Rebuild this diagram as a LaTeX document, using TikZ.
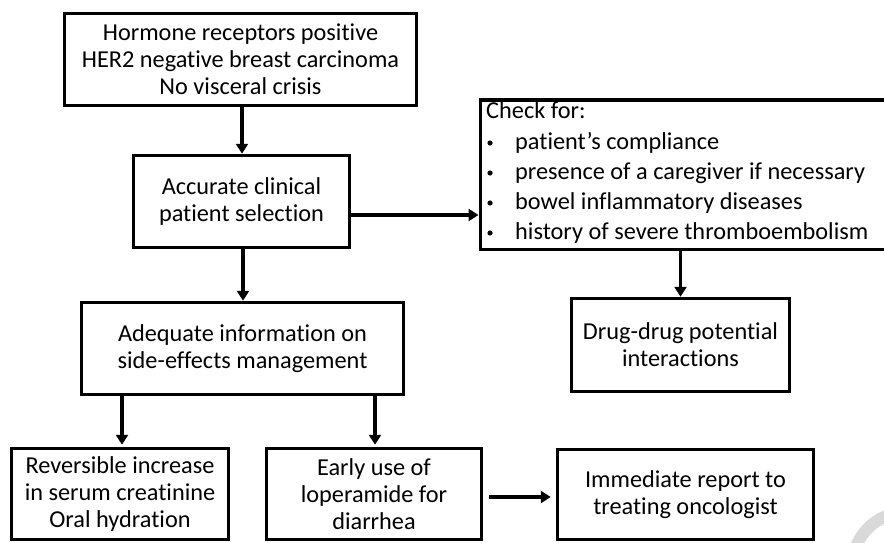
\documentclass[tikz,border=0pt]{standalone}
\usepackage{fontspec}
\setmainfont[Ligatures={TeX,NoCommon}]{Carlito}
\usetikzlibrary{arrows.meta}
\tikzset{
  txt/.style={font=\fontsize{24.3}{27}\selectfont},
  box/.style={draw=black, line width=3.5pt, fill=white, align=center, inner sep=2pt, txt},
  arr/.style={line width=3.5pt, -{Triangle[width=12pt,length=10pt]}},
}
\begin{document}
\begin{tikzpicture}[x=1pt,y=-1pt]
\clip (0,0) rectangle (884,543);
\fill[white] (0,0) rectangle (884,543);
% watermark arc
\draw[line width=12pt, gray!30] (907,567) circle (55);
% nodes
\node[box, minimum width=352pt, minimum height=92pt] (top) at (240.5,59.5)
  {Hormone receptors positive\\HER2 negative breast carcinoma\\No visceral crisis};
\node[box, minimum width=216pt, minimum height=92pt] (acc) at (241.5,201.5)
  {Accurate clinical\\patient selection};
\node[box, minimum width=322pt, minimum height=92pt] (adq) at (242.5,348.5)
  {Adequate information on\\side-effects management};
\node[box, minimum width=217pt, minimum height=91pt] (rev) at (120,494)
  {Reversible increase\\in serum creatinine\\Oral hydration};
\node[box, minimum width=215pt, minimum height=91pt] (early) at (374,494)
  {Early use of\\loperamide for\\diarrhea};
\node[box, minimum width=256pt, minimum height=90pt] (imm) at (685.5,494.5)
  {Immediate report to\\treating oncologist};
\node[box, minimum width=218pt, minimum height=93pt] (drug) at (680.5,345)
  {Drug-drug potential\\interactions};
\node[box, anchor=north west, minimum width=460pt, minimum height=149pt] (check) at (478.5,98.5) {};
% check text
\node[anchor=west, txt, inner sep=0pt] (c0) at (486,110) {Check for:};
\foreach \y/\t [count=\i] in {143/patient’s compliance, 173/presence of a caregiver if necessary, 203/bowel inflammatory diseases, 233/history of severe thromboembolism}{
  \fill (490,\y) circle (2.6pt);
  \node[anchor=west, txt, inner sep=0pt] (c\i) at (515,\y) {\t};
}
% connectors
\draw[arr] (top.south -| 242,0) -- (acc.north -| 242,0);
\draw[arr] (acc.south -| 243,0) -- (adq.north -| 243,0);
\draw[arr] (acc.east |- 0,215) -- (check.west |- 0,215);
\draw[arr] (drug.north |- check.south) -- (drug.north);
\draw[arr] (adq.south -| 122,0) -- ([yshift=2pt]rev.north -| 122,0);
\draw[arr] (adq.south -| 375,0) -- ([yshift=2pt]early.north -| 375,0);
\draw[arr, shorten <=6pt, shorten >=5pt] (early.east |- 0,497) -- (imm.west |- 0,497);
\end{tikzpicture}
\end{document}
